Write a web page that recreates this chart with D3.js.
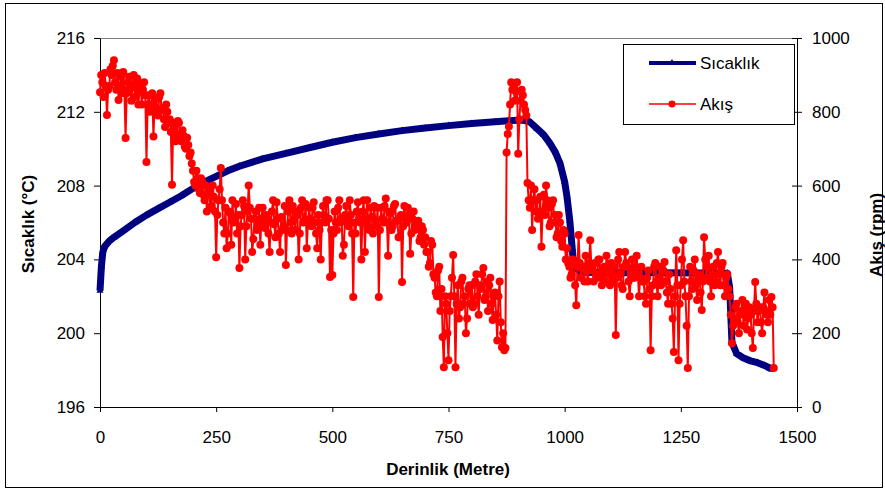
<!DOCTYPE html>
<html>
<head>
<meta charset="utf-8">
<script src="https://cdn.jsdelivr.net/npm/d3@7"></script>
<style>
	body { margin: 0; background: #fff; }
	svg text { font-family: "Liberation Sans", Arial, sans-serif; }
</style>
</head>
<body>
<svg id="chart" width="885" height="490"></svg>
<script>
'use strict';

// Sıcaklık (temperature)
const tempDepth = [0, 3, 6, 10, 20, 30, 50, 75, 100, 125, 150, 175, 200, 225, 250, 275, 300, 350, 400, 450,
	500, 550, 600, 650, 700, 750, 800, 850, 880, 910, 925, 940, 955, 968, 980, 990, 1000, 1005, 1011, 1018,
	1025, 1035, 1100, 1200, 1300, 1350, 1355, 1360, 1370, 1385, 1400, 1415, 1430, 1442, 1450];
const tempValue = [202.3, 203.6, 204.4, 204.7, 205.0, 205.2, 205.55, 206.0, 206.4, 206.75, 207.1, 207.45, 207.85, 208.2, 208.5, 208.8, 209.05, 209.45, 209.75, 210.05,
	210.35, 210.6, 210.8, 210.98, 211.12, 211.25, 211.36, 211.46, 211.52, 211.55, 211.45, 211.1, 210.75, 210.3, 209.8, 209.2, 208.2, 207.4, 206.1, 204.1,
	203.5, 203.3, 203.28, 203.27, 203.26, 203.25, 202.5, 199.5, 198.9, 198.65, 198.5, 198.4, 198.25, 198.1, 198.1];

// Akış (rpm), one reading every 2.5 m from 0 to 1450 m (one row = 50 m)
const flowStep = 2.5;
const flowValue = [
	853, 900, 880, 840, 905, 870, 791, 860, 870, 915, 900, 925, 940, 880, 860, 905, 832, 870, 895, 850,
	908, 860, 729, 850, 880, 895, 862, 830, 875, 900, 840, 870, 890, 820, 855, 875, 820, 860, 880, 845,
	664, 820, 845, 800, 820, 850, 733, 815, 835, 800, 790, 840, 850, 805, 810, 780, 759, 820, 800, 770,
	780, 745, 602, 770, 760, 720, 740, 775, 770, 730, 720, 750, 735, 705, 700, 730, 710, 680, 690, 660,
	640, 610, 600, 640, 620, 590, 580, 620, 610, 575, 560, 600, 530, 580, 590, 540, 545, 600, 570, 530,
	406, 520, 560, 590, 648, 560, 500, 470, 540, 430, 470, 530, 525, 440, 560, 500, 505, 550, 470, 520,
	377, 490, 520, 560, 545, 400, 490, 530, 600, 540, 510, 420, 455, 510, 530, 480, 495, 540, 440, 510,
	540, 500, 485, 520, 510, 470, 420, 500, 530, 560, 495, 460, 555, 510, 470, 420, 515, 480, 490, 545,
	385, 480, 530, 560, 500, 470, 545, 510, 480, 530, 520, 400, 470, 540, 560, 500, 505, 550, 430, 500,
	540, 510, 490, 540, 555, 500, 470, 430, 520, 480, 400, 500, 545, 520, 500, 560, 560, 510, 352, 480,
	358, 470, 530, 500, 480, 540, 560, 500, 510, 410, 440, 520, 545, 505, 490, 560, 520, 470, 298, 500,
	470, 530, 555, 510, 500, 400, 530, 560, 420, 510, 560, 490, 480, 540, 515, 470, 545, 505, 490, 540,
	298, 480, 540, 510, 500, 545, 565, 500, 410, 530, 525, 480, 490, 545, 550, 505, 505, 460, 460, 520,
	339, 490, 545, 510, 500, 540, 520, 415, 470, 510, 530, 480, 490, 500, 505, 450, 460, 490, 480, 440,
	460, 420, 420, 380, 390, 450, 440, 360, 350, 310, 300, 370, 380, 260, 320, 190, 108, 300, 280, 200,
	127, 260, 300, 350, 412, 300, 108, 280, 330, 240, 270, 340, 350, 280, 300, 200, 240, 320, 330, 280,
	330, 270, 280, 340, 360, 300, 250, 330, 320, 360, 377, 290, 300, 340, 260, 330, 350, 280, 236, 300,
	310, 250, 180, 300, 340, 230, 162, 200, 154, 160, 690, 740, 760, 820, 880, 860, 870, 830, 855, 880,
	686, 780, 830, 860, 845, 820, 805, 790, 607, 560, 540, 600, 480, 560, 590, 530, 560, 510, 520, 570,
	434, 530, 575, 520, 600, 560, 540, 490, 500, 550, 560, 500, 520, 460, 470, 520, 500, 450, 434, 480,
	470, 400, 430, 390, 380, 350, 360, 400, 390, 330, 276, 380, 466, 390, 350, 380, 380, 340, 410, 370,
	340, 390, 452, 380, 370, 340, 390, 360, 350, 400, 400, 350, 330, 370, 380, 340, 410, 380, 360, 330,
	390, 360, 340, 380, 195, 350, 400, 420, 360, 330, 320, 380, 420, 390, 380, 340, 300, 360, 400, 350,
	350, 380, 410, 360, 300, 350, 380, 340, 340, 300, 280, 350, 370, 320, 154, 300, 330, 380, 390, 340,
	300, 350, 380, 330, 340, 370, 393, 340, 310, 280, 360, 320, 280, 240, 149, 300, 425, 330, 127, 280,
	330, 400, 452, 340, 300, 220, 106, 300, 380, 340, 320, 370, 400, 330, 290, 350, 360, 310, 263, 340,
	460, 400, 350, 380, 410, 340, 300, 360, 380, 330, 340, 390, 420, 360, 330, 380, 390, 330, 300, 350,
	360, 320, 300, 250, 173, 220, 240, 270, 280, 230, 200, 250, 260, 290, 220, 260, 280, 210, 240, 270,
	250, 200, 160, 260, 339, 280, 230, 260, 270, 230, 200, 270, 310, 260, 250, 230, 290, 250, 298, 270,
	106
];

const xTicks = [0, 250, 500, 750, 1000, 1250, 1500];
const tempTicks = [196, 200, 204, 208, 212, 216];
const flowTicks = [0, 200, 400, 600, 800, 1000];
const legendLabels = ['Sıcaklık', 'Akış'];

const BLUE = '#000080', RED = '#ff0000';

let svg = d3.select('#chart');
let margin = { left: 100, right: 797, top: 38, bottom: 407 };

let x = d3.scaleLinear().domain([0, 1500]).range([margin.left, margin.right]),
	yT = d3.scaleLinear().domain([196, 216]).range([margin.bottom, margin.top]),
	yF = d3.scaleLinear().domain([0, 1000]).range([margin.bottom, margin.top]);

let tempData = tempDepth.map((d, i) => ({ depth: d, value: tempValue[i] })),
	flowData = flowValue.map((v, i) => ({ depth: i * flowStep, value: v }));

// outer frame
svg.append('rect')
	.attr('x', 5.5).attr('y', 3.5).attr('width', 877).attr('height', 484)
	.attr('fill', 'none').attr('stroke', '#000').attr('stroke-width', 1);

// top border of the plot area
svg.append('line')
	.attr('x1', margin.left).attr('x2', margin.right)
	.attr('y1', margin.top + 0.5).attr('y2', margin.top + 0.5)
	.attr('stroke', '#808080');

// axes
let fmt = d3.format('d');
let axisBottom = svg.append('g')
	.attr('transform', `translate(0,${margin.bottom})`)
	.call(d3.axisBottom(x).tickValues(xTicks).tickFormat(fmt).tickSizeInner(5).tickSizeOuter(0).tickPadding(19));
let axisLeft = svg.append('g')
	.attr('transform', `translate(${margin.left},0)`)
	.call(d3.axisLeft(yT).tickValues(tempTicks).tickFormat(fmt).tickSizeInner(6).tickSizeOuter(0).tickPadding(9));
let axisRight = svg.append('g')
	.attr('transform', `translate(${margin.right},0)`)
	.call(d3.axisRight(yF).tickValues(flowTicks).tickFormat(fmt).tickSizeInner(5).tickSizeOuter(0).tickPadding(10));
axisRight.selectAll('.tick line').attr('x1', -5);

[axisBottom, axisLeft, axisRight].forEach(g => {
	g.select('.domain').attr('stroke', '#000');
	g.selectAll('.tick line').attr('stroke', '#000');
	g.selectAll('.tick text')
		.attr('fill', '#000')
		.style('font-size', '17px')
		.style('font-family', '"Liberation Sans", Arial, sans-serif');
});

// axis titles
svg.append('text')
	.attr('x', 448).attr('y', 475)
	.attr('text-anchor', 'middle')
	.style('font-size', '17px').style('font-weight', 'bold')
	.text('Derinlik (Metre)');
svg.append('text')
	.attr('transform', 'translate(34,224) rotate(-90)')
	.attr('text-anchor', 'middle')
	.style('font-size', '17px').style('font-weight', 'bold')
	.text('Sıcaklık (°C)');
svg.append('text')
	.attr('transform', 'translate(882,235) rotate(-90)')
	.attr('text-anchor', 'middle')
	.style('font-size', '17px').style('font-weight', 'bold')
	.text('Akış (rpm)');

// temperature series
let lineT = d3.line().x(d => x(d.depth)).y(d => yT(d.value));
svg.append('path')
	.datum(tempData)
	.attr('d', lineT)
	.attr('fill', 'none')
	.attr('stroke', BLUE)
	.attr('stroke-width', 7)
	.attr('stroke-linejoin', 'round');
svg.append('g').selectAll('path')
	.data(tempData)
	.enter().append('path')
	.attr('d', d3.symbol().type(d3.symbolTriangle).size(22))
	.attr('transform', d => `translate(${x(d.depth)},${yT(d.value)})`)
	.attr('fill', BLUE);

// flow series
let lineF = d3.line().x(d => x(d.depth)).y(d => yF(d.value));
svg.append('path')
	.datum(flowData)
	.attr('d', lineF)
	.attr('fill', 'none')
	.attr('stroke', RED)
	.attr('stroke-width', 2);
svg.append('g').selectAll('circle')
	.data(flowData)
	.enter().append('circle')
	.attr('cx', d => x(d.depth))
	.attr('cy', d => yF(d.value))
	.attr('r', 4)
	.attr('fill', RED);

// legend
let legend = svg.append('g');
legend.append('rect')
	.attr('x', 623.5).attr('y', 44.5).attr('width', 171).attr('height', 80)
	.attr('fill', '#fff').attr('stroke', '#000');
let entries = legend.selectAll('g.entry')
	.data(legendLabels)
	.enter().append('g')
	.attr('class', 'entry')
	.attr('transform', (d, i) => `translate(0,${63 + i * 41})`);
entries.append('line')
	.attr('x1', 649).attr('x2', 696)
	.attr('stroke', (d, i) => i === 0 ? BLUE : RED)
	.attr('stroke-width', (d, i) => i === 0 ? 4 : 1.5);
entries.append('path')
	.attr('d', (d, i) => d3.symbol().type(i === 0 ? d3.symbolTriangle : d3.symbolCircle).size(i === 0 ? 22 : 38)())
	.attr('transform', 'translate(672,0)')
	.attr('fill', (d, i) => i === 0 ? BLUE : RED);
entries.append('text')
	.attr('x', 700).attr('y', 6)
	.style('font-size', '17px')
	.text(d => d);
</script>
</body>
</html>
